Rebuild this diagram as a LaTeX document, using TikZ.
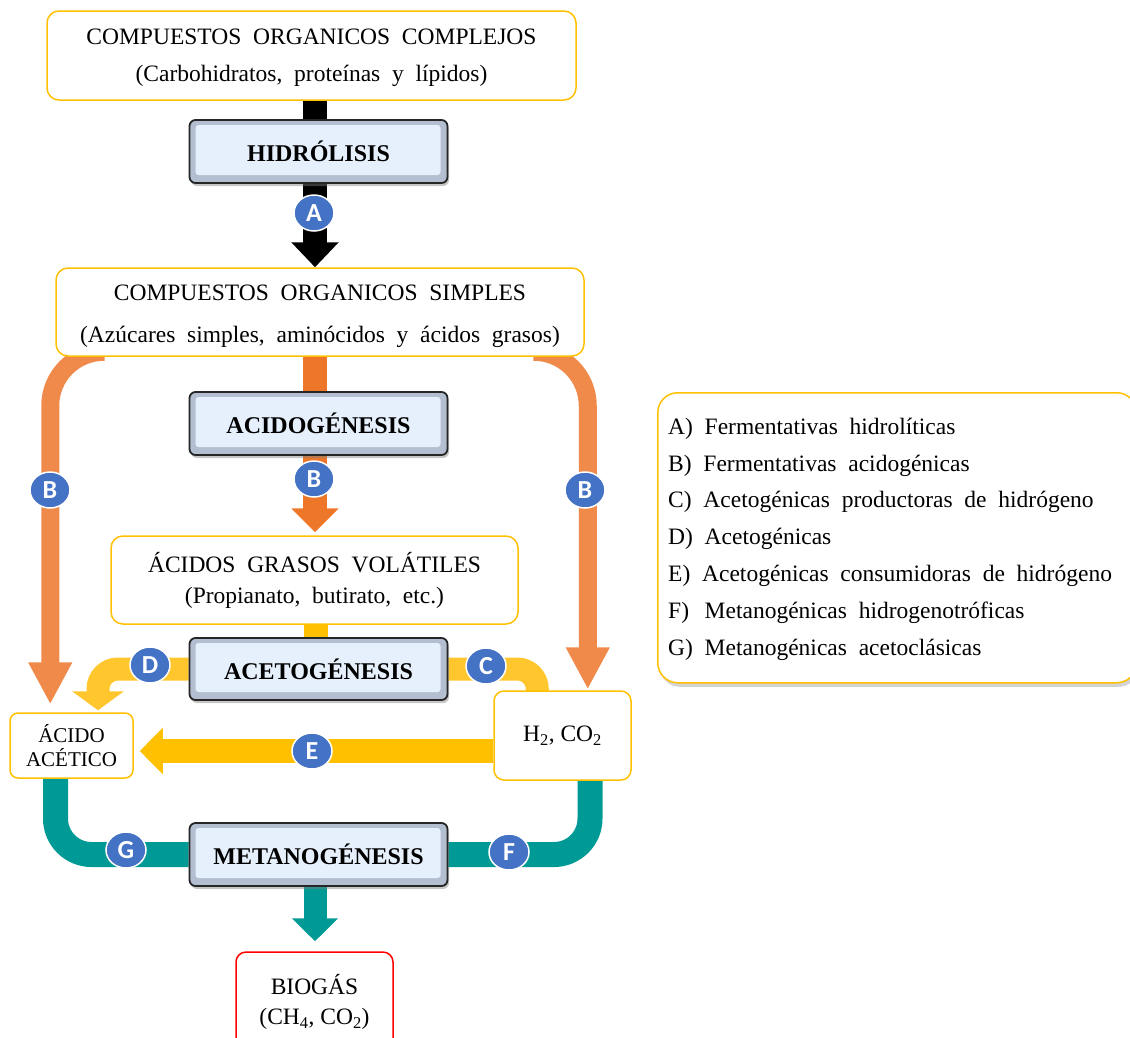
\documentclass[tikz,border=0pt]{standalone}
\usepackage{fontspec}
\setmainfont{Liberation Serif}
\newfontfamily\circfont{Carlito}
\usetikzlibrary{arrows.meta,shapes.geometric,shadows,calc}
\definecolor{ybd}{HTML}{FFC000}
\definecolor{yband}{HTML}{FFC000}
\definecolor{yband2}{HTML}{FFC62E}
\definecolor{oside}{HTML}{F08A4B}
\definecolor{ocen}{HTML}{EE7628}
\definecolor{tealc}{HTML}{009A96}
\definecolor{cblue}{HTML}{4472C4}
\definecolor{procbd}{HTML}{262626}
\definecolor{procface}{HTML}{E6F0FC}
\definecolor{procbev}{HTML}{B3BFD1}
\definecolor{redbd}{HTML}{FF0000}
\newcommand{\mywsp}{\spaceskip=0.5em plus 0.1em\relax}
\pgfdeclarelayer{bg}
\pgfsetlayers{bg,main}
\begin{document}
\begin{tikzpicture}[x=1pt,y=-1pt,
  ybox/.style={draw=ybd, line width=1.5pt, fill=white, rounded corners=12pt, inner sep=0pt, align=center},
  proc/.style={draw=procbd, line width=1.8pt, fill=procbev, rounded corners=6pt,
    minimum width=258pt, minimum height=63pt, inner sep=0pt,
    font=\fontsize{24}{28}\selectfont\bfseries,
    drop shadow={shadow xshift=1.5pt, shadow yshift=-3pt, opacity=0.45},
    path picture={\fill[procface, rounded corners=3pt]
      ([shift={(6,5)}]path picture bounding box.north west) rectangle
      ([shift={(-7,-8)}]path picture bounding box.south east);}},
  lbl/.style={ellipse, minimum width=40pt, minimum height=36pt, inner sep=0pt,
    fill=cblue, draw=white, line width=1.5pt, text=white,
    font=\circfont\bfseries\fontsize{26}{26}\selectfont},
  legbox/.style={draw=ybd, line width=1.5pt, fill=white, rounded corners=20pt,
    drop shadow={shadow xshift=2pt, shadow yshift=-4pt, opacity=0.35}},
  yb/.style={draw=yband, line width=24pt},
  yb2/.style={draw=yband2, line width=23pt, rounded corners=20pt},
  os/.style={draw=oside, line width=18pt, rounded corners=54pt, -{Triangle[length=42pt,width=41pt]}},
  tl/.style={draw=tealc, line width=25pt, rounded corners=36pt}
]
\useasboundingbox (0,0) rectangle (1130,1037);
\clip (0,0) rectangle (1130,1037);
\coordinate (ax) at (315,0);

% boxes
\node[ybox, minimum width=529pt, minimum height=89pt,
  font=\fontsize{23.5}{37}\selectfont\mywsp] (c1) at (311.5,55.5)
  {\rule{0pt}{20pt}COMPUESTOS ORGANICOS COMPLEJOS\\(Carbohidratos, proteínas y lípidos)};
\node[proc] (hid) at (318.5,151.5) {HIDRÓLISIS};
\node[ybox, minimum width=528pt, minimum height=88pt,
  font=\fontsize{23.5}{42}\selectfont\mywsp] (c2) at (320,312)
  {\rule{0pt}{24pt}COMPUESTOS ORGANICOS SIMPLES\\(Azúcares simples, aminócidos y ácidos grasos)};
\node[proc] (acid) at (318.5,423.5) {ACIDOGÉNESIS};
\node[ybox, minimum width=407pt, minimum height=88pt,
  font=\fontsize{23.5}{31}\selectfont\mywsp] (agv) at (314.5,580)
  {ÁCIDOS GRASOS VOLÁTILES\\(Propianato, butirato, etc.)};
\node[proc, minimum height=62pt] (aceto) at (318.5,669) {ACETOGÉNESIS};
\node[ybox, rounded corners=8pt, minimum width=123pt, minimum height=65pt,
  font=\fontsize{21}{24}\selectfont] (aa) at (71.5,745.5) {ÁCIDO\\ACÉTICO};
\node[ybox, rounded corners=10pt, minimum width=137pt, minimum height=89pt,
  font=\fontsize{23.5}{28}\selectfont] (h2) at (562.5,735.5)
  {H\textsubscript{2}, CO\textsubscript{2}};
\node[proc] (meta) at (318.5,854.5) {METANOGÉNESIS};
\node[ybox, draw=redbd, rounded corners=10pt, minimum width=157pt, minimum height=100pt,
  font=\fontsize{23.5}{30}\selectfont] (bio) at (314.5,1002)
  {BIOGÁS\\(CH\textsubscript{4}, CO\textsubscript{2})};

% legend
\node[legbox, minimum width=479pt, minimum height=290pt, anchor=north west] (leg) at (657,392) {};
\node[anchor=west, align=left, inner sep=0pt,
  font=\fontsize{23.5}{36.8}\selectfont\mywsp] (legtxt) at (668,539)
  {A) Fermentativas hidrolíticas\\
   B) Fermentativas acidogénicas\\
   C) Acetogénicas productoras de hidrógeno\\
   D) Acetogénicas\\
   E) Acetogénicas consumidoras de hidrógeno\\
   F)\, Metanogénicas hidrogenotróficas\\
   G) Metanogénicas acetoclásicas};

% bands
\begin{pgfonlayer}{bg}
  \draw[draw=black, line width=24pt, -{Triangle[length=25pt,width=46pt]}]
    (ax |- c1.south) -- (ax |- c2.north);
  \draw[draw=ocen, line width=24pt, -{Triangle[length=24pt,width=46pt]}]
    (ax |- c2.south) -- ($(ax |- agv.north)+(0,-3)$);
  \draw[os] ($(c2.south west)+(49,-5)$) -| ($(aa.north west)+(41,-8)$);
  \draw[os] ($(c2.south east)+(-51,-5)$) -| ($(h2.north east)+(-44,-1)$);
  \draw[yb] ($(ax |- agv.south)+(1,0)$) -- ($(ax |- aceto.north)+(1,0)$);
  \draw[yb2, -{Triangle[length=19pt,width=51pt]}]
    (aceto.west) -| ($(aa.north)+(26.5,-2)$);
  \draw[yb2] (aceto.east) -| ($(h2.north west)+(44,1)$);
  \draw[yb, -{Triangle[length=23pt,width=45pt]}]
    ($(h2.west)+(0,15.5)$) -- ($(aa.east)+(6,5.5)$);
  \draw[tl] ($(aa.south)+(-16,0)$) |- (meta.west);
  \draw[tl] ($(h2.south)+(27.5,0)$) |- (meta.east);
  \draw[draw=tealc, line width=23pt, -{Triangle[length=23pt,width=45pt]}]
    (ax |- meta.south) -- ($(ax |- bio.north)+(0,-10)$);
\end{pgfonlayer}

% circles
\node[lbl] (la) at (314,213) {A};
\node[lbl] (lb1) at (314,479) {B};
\node[lbl] (lb2) at (50,490) {B};
\node[lbl] (lb3) at (585,490) {B};
\node[lbl] (ld) at (150,665) {D};
\node[lbl] (lc) at (486,666) {C};
\node[lbl] (le) at (312,751) {E};
\node[lbl] (lg) at (126,850) {G};
\node[lbl] (lf) at (509,852) {F};
\end{tikzpicture}
\end{document}
